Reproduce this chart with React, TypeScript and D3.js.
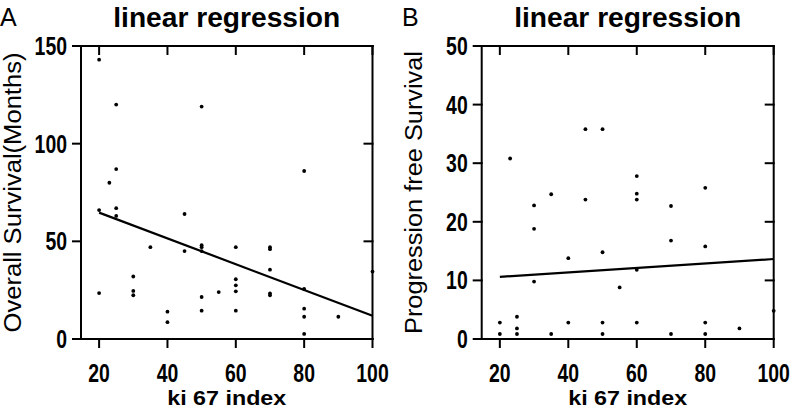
import React from "react";
import * as d3 from "d3";

// Panel A: Overall Survival (Months) vs ki 67 index
const osKi: number[] = [20, 25, 50, 25, 23, 20, 25, 25, 45, 35, 45, 50, 50, 50, 20, 30, 30, 30, 40, 40, 50, 50, 55, 80, 60, 70, 70, 70, 60, 60, 60, 60, 70, 70, 80, 80, 80, 90, 80, 100];
const osVal: number[] = [143, 120, 119, 87, 80, 66, 67, 63, 64, 47, 45, 48, 47, 45, 23.5, 32, 24.6, 22.4, 14, 8.6, 21.5, 14.5, 24, 86, 47, 47, 46, 35.5, 30.6, 27.5, 24.4, 14.5, 23.4, 22.4, 25.6, 15.5, 11.4, 11.4, 2.6, 34.5];

// Panel B: Progression free Survival vs ki 67 index
const pfsKi: number[] = [23, 45, 50, 60, 80, 30, 35, 45, 30, 50, 40, 30, 55, 20, 20, 25, 25, 25, 35, 40, 50, 50, 60, 60, 70, 70, 80, 60, 60, 70, 80, 80, 90, 100];
const pfsVal: number[] = [30.8, 35.8, 35.8, 27.8, 25.8, 22.8, 24.7, 23.8, 18.8, 14.8, 13.8, 9.8, 8.8, 2.8, 0.85, 3.8, 1.8, 0.85, 0.85, 2.8, 2.8, 0.85, 24.8, 23.8, 22.7, 16.8, 15.8, 11.8, 2.8, 0.85, 2.8, 0.85, 1.8, 4.8];

// Regression lines (value at x=20 and x=100)
const osFitX: number[] = [20, 100];
const osFitY: number[] = [64.7, 11.9];
const pfsFitX: number[] = [20, 100];
const pfsFitY: number[] = [10.6, 13.65];

const xTicks: number[] = [20, 40, 60, 80, 100];
const osTicks: number[] = [0, 50, 100, 150];
const pfsTicks: number[] = [0, 10, 20, 30, 40, 50];

const FONT = "'Liberation Sans', Arial, Helvetica, sans-serif";

type PanelProps = {
  left: number;
  right: number;
  letter: string;
  letterX: number;
  yMax: number;
  yTicks: number[];
  xs: number[];
  ys: number[];
  fitX: number[];
  fitY: number[];
  yLabel: string;
  yLabelX: number;
  yLabelLen: number;
};

function Panel(p: PanelProps) {
  const top = 46;
  const bottom = 339;
  const x = d3.scaleLinear().domain([14.7, 100]).range([p.left, p.right]);
  const y = d3.scaleLinear().domain([0, p.yMax]).range([bottom, top]);
  const cx = (p.left + p.right) / 2;
  const cy = (top + bottom) / 2;
  const tl = 8;
  const line = d3
    .line<number>()
    .x((_, i) => x(p.fitX[i]))
    .y((d) => y(d));
  const sw = 2;
  return (
    <g>
      <text x={p.letterX} y={26} fontSize={25} fontFamily={FONT} fill="#000">
        {p.letter}
      </text>
      <text
        x={cx}
        y={27}
        fontSize={27}
        fontWeight="bold"
        fontFamily={FONT}
        textAnchor="middle"
        textLength={227}
        lengthAdjust="spacingAndGlyphs"
        fill="#000"
      >
        linear regression
      </text>
      {/* frame */}
      <g stroke="#000" strokeWidth={sw} strokeLinecap="square" fill="none">
        <line x1={p.left} x2={p.left} y1={top} y2={bottom} />
        <line x1={p.left} x2={p.right} y1={bottom} y2={bottom} />
        <line x1={p.left} x2={p.right} y1={top} y2={top} />
        <line x1={p.right} x2={p.right} y1={top} y2={bottom} />
        {xTicks.map((t) => (
          <g key={"xt" + t}>
            <line x1={x(t)} x2={x(t)} y1={bottom} y2={bottom + tl} />
            <line x1={x(t)} x2={x(t)} y1={top} y2={top + tl} />
          </g>
        ))}
        {p.yTicks.map((t) => (
          <g key={"yt" + t}>
            <line x1={p.left - tl} x2={p.left} y1={y(t)} y2={y(t)} />
            <line x1={p.right - tl} x2={p.right} y1={y(t)} y2={y(t)} />
          </g>
        ))}
      </g>
      {/* tick labels */}
      {xTicks.map((t) => (
        <text
          key={"xl" + t}
          x={x(t)}
          y={381.5}
          fontSize={25}
          fontWeight="bold"
          fontFamily={FONT}
          textAnchor="middle"
          textLength={String(t).length * 10.8}
          lengthAdjust="spacingAndGlyphs"
          fill="#000"
        >
          {t}
        </text>
      ))}
      {p.yTicks.map((t) => (
        <text
          key={"yl" + t}
          x={p.left - 14}
          y={y(t) + 9}
          fontSize={25}
          fontWeight="bold"
          fontFamily={FONT}
          textAnchor="end"
          textLength={String(t).length * 10.8}
          lengthAdjust="spacingAndGlyphs"
          fill="#000"
        >
          {t}
        </text>
      ))}
      <text
        x={cx}
        y={405}
        fontSize={20}
        fontWeight="bold"
        fontFamily={FONT}
        textAnchor="middle"
        textLength={119}
        lengthAdjust="spacingAndGlyphs"
        fill="#000"
      >
        ki 67 index
      </text>
      <text
        transform={`translate(${p.yLabelX},${cy}) rotate(-90)`}
        fontSize={23}
        fontFamily={FONT}
        textAnchor="middle"
        textLength={p.yLabelLen}
        lengthAdjust="spacingAndGlyphs"
        fill="#000"
      >
        {p.yLabel}
      </text>
      {/* points */}
      {p.xs.map((v, i) => (
        <circle key={"pt" + i} cx={x(v)} cy={y(p.ys[i])} r={1.9} fill="#000" />
      ))}
      {/* regression line */}
      <path d={line(p.fitY) || ""} stroke="#000" strokeWidth={2.2} fill="none" />
    </g>
  );
}

export default function App() {
  return (
    <svg
      width={794}
      height={410}
      viewBox="0 0 794 410"
      style={{ position: "absolute", left: 0, top: 0, background: "#fff" }}
    >
      <rect x={0} y={0} width={794} height={410} fill="#fff" />
      <Panel
        left={81}
        right={372.5}
        letter="A"
        letterX={0}
        yMax={150}
        yTicks={osTicks}
        xs={osKi}
        ys={osVal}
        fitX={osFitX}
        fitY={osFitY}
        yLabel="Overall Survival(Months)"
        yLabelX={21}
        yLabelLen={280}
      />
      <Panel
        left={481.7}
        right={773.7}
        letter="B"
        letterX={402}
        yMax={50}
        yTicks={pfsTicks}
        xs={pfsKi}
        ys={pfsVal}
        fitX={pfsFitX}
        fitY={pfsFitY}
        yLabel="Progression free Survival"
        yLabelX={422}
        yLabelLen={283}
      />
    </svg>
  );
}
